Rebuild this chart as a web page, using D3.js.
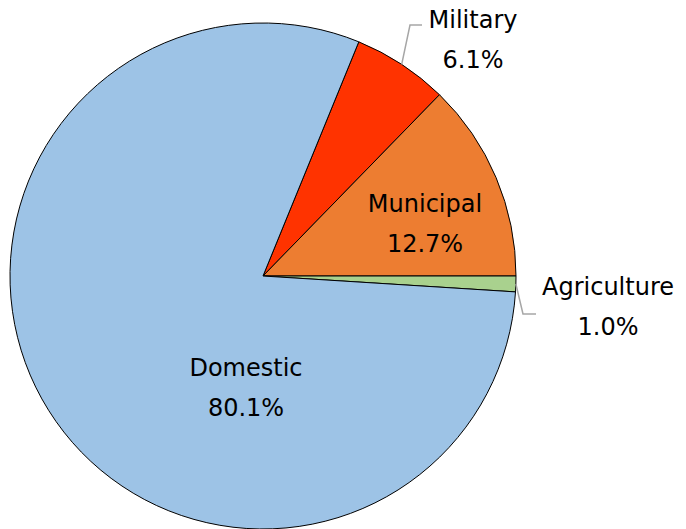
<!DOCTYPE html>
<html>
<head>
<meta charset="utf-8">
<script src="https://cdn.jsdelivr.net/npm/d3@7"></script>
<style>
  html, body { margin: 0; padding: 0; background: #fff; }
  svg { display: block; }
  text { font-family: "DejaVu Sans", Verdana, sans-serif; fill: #000; }
</style>
</head>
<body>
<svg id="chart" width="686" height="529"></svg>
<script>
// Water use by sector (share of total, %)
const categories = ["Military", "Municipal", "Agriculture", "Domestic"];
const shares = [6.1, 12.7, 1.0, 80.1];
const colors = ["#FF3300", "#ED7D31", "#A9D18E", "#9DC3E6"];

const width = 686, height = 529;
const cx = 263, cy = 276, radius = 253;

// first slice begins where the running total of the first three reaches 3 o'clock
const total = d3.sum(shares);
const startAngle = Math.PI / 2 - 2 * Math.PI * (shares[0] + shares[1]) / total;

const svg = d3.select("#chart");
const g = svg.append("g").attr("transform", `translate(${cx},${cy})`);

const pie = d3.pie().sort(null).value(d => d.value)
  .startAngle(startAngle).endAngle(startAngle + 2 * Math.PI);
const arc = d3.arc().innerRadius(0).outerRadius(radius);

const data = categories.map((c, i) => ({ name: c, value: shares[i], color: colors[i] }));
const arcs = pie(data);

g.selectAll("path.slice").data(arcs).join("path")
  .attr("class", "slice")
  .attr("d", arc)
  .attr("fill", d => d.data.color)
  .attr("stroke", "#000")
  .attr("stroke-width", 1);

// label placement: inside labels sit on a polar point, outside labels get a leader line
const labelLayout = {
  Military:    { outside: true, x: 473, y: 28, elbow: [410, 25], end: [422, 25] },
  Municipal:   { outside: false, x: 425, y: 212 },
  Agriculture: { outside: true, x: 608, y: 295, elbow: [523, 314], end: [536, 314] },
  Domestic:    { outside: false, x: 246, y: 376 }
};

const fmt = d3.format(".1f");
arcs.forEach(a => {
  const L = labelLayout[a.data.name];
  if (L.outside) {
    const mid = (a.startAngle + a.endAngle) / 2;
    const px = cx + radius * Math.sin(mid);
    const py = cy - radius * Math.cos(mid);
    svg.append("polyline")
      .attr("points", [[px, py], L.elbow, L.end].map(p => p.join(",")).join(" "))
      .attr("fill", "none")
      .attr("stroke", "#A6A6A6")
      .attr("stroke-width", 1.5);
  }
  const t = svg.append("text")
    .attr("text-anchor", "middle")
    .attr("font-size", 24);
  t.append("tspan").attr("x", L.x).attr("y", L.y).text(a.data.name);
  t.append("tspan").attr("x", L.x).attr("y", L.y + 40).text(fmt(a.data.value) + "%");
});
</script>
</body>
</html>
